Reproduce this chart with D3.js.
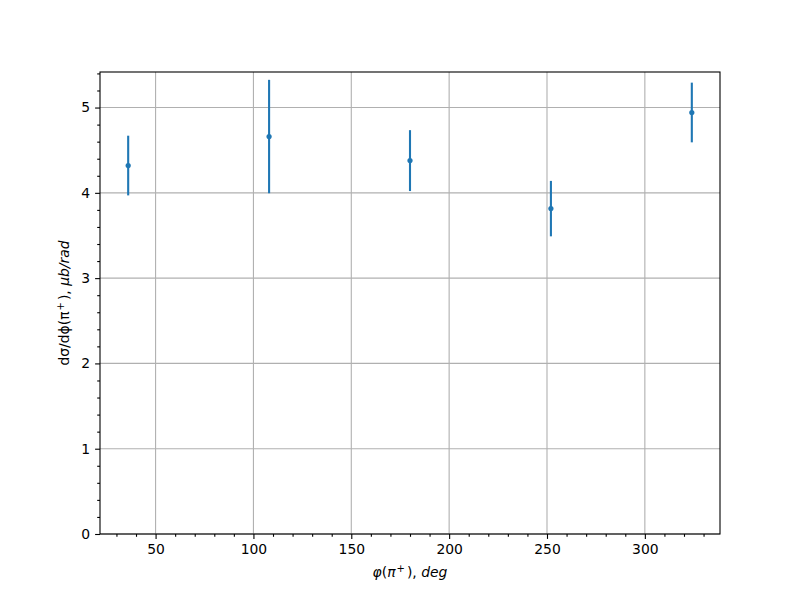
<!DOCTYPE html>
<html>
<head>
<meta charset="utf-8">
<script src="https://cdn.jsdelivr.net/npm/d3@7"></script>
<style>
body { margin: 0; background: #fff; }
svg { display: block; }
text { font-family: "DejaVu Sans", sans-serif; }
</style>
</head>
<body>
<svg id="chart" width="800" height="600"></svg>
<script>
// Data
const phiDeg = [36, 108, 180, 252, 324];
const dsigma = [4.32, 4.66, 4.378, 3.815, 4.942];
const dsigmaErr = [0.35, 0.665, 0.357, 0.325, 0.35];
const xTicks = [50, 100, 150, 200, 250, 300];
const yTicks = [0, 1, 2, 3, 4, 5];

(function () {
const W = 800, H = 600;
const mLeft = 100, mRight = 720, mTop = 72, mBottom = 534;
const color = "#1f77b4";

const svg = d3.select("#chart");
svg.append("rect").attr("width", W).attr("height", H).attr("fill", "#fff");

// domains like matplotlib autoscale (5% margins), y bottom fixed at 0
const xmin = d3.min(phiDeg), xmax = d3.max(phiDeg);
const xm = 0.05 * (xmax - xmin);
const x = d3.scaleLinear().domain([xmin - xm, xmax + xm]).range([mLeft, mRight]);
const lo = d3.min(dsigma.map((v, i) => v - dsigmaErr[i]));
const hi = d3.max(dsigma.map((v, i) => v + dsigmaErr[i]));
const y = d3.scaleLinear().domain([0, hi + 0.05 * (hi - lo)]).range([mBottom, mTop]);

// grid
const grid = svg.append("g");
xTicks.forEach(t => grid.append("line")
  .attr("x1", x(t)).attr("x2", x(t)).attr("y1", mTop).attr("y2", mBottom)
  .attr("stroke", "#b0b0b0").attr("stroke-width", 1.1));
yTicks.forEach(t => grid.append("line")
  .attr("x1", mLeft).attr("x2", mRight).attr("y1", y(t)).attr("y2", y(t))
  .attr("stroke", "#b0b0b0").attr("stroke-width", 1.1));

// axes via d3
const xMinor = d3.range(30, 340, 10).filter(v => v % 50 !== 0 && v >= x.domain()[0] && v <= x.domain()[1]);
const yMinor = d3.range(0, 5.5, 0.2).map(v => +v.toFixed(1)).filter(v => Math.abs(v - Math.round(v)) > 1e-6 && v <= y.domain()[1]);

svg.append("g").attr("transform", `translate(0,${mBottom})`)
  .call(d3.axisBottom(x).tickValues(xTicks).tickSize(4.9).tickPadding(4.9).tickFormat(d3.format("d")));
svg.append("g").attr("transform", `translate(0,${mBottom})`)
  .call(d3.axisBottom(x).tickValues(xMinor).tickSize(2.8).tickFormat(""));
svg.append("g").attr("transform", `translate(${mLeft},0)`)
  .call(d3.axisLeft(y).tickValues(yTicks).tickSize(4.9).tickPadding(4.9).tickFormat(d3.format("d")));
svg.append("g").attr("transform", `translate(${mLeft},0)`)
  .call(d3.axisLeft(y).tickValues(yMinor).tickSize(2.8).tickFormat(""));

svg.selectAll(".tick line").attr("stroke", "#000").attr("stroke-width", 1.1);
svg.selectAll(".domain").remove();
svg.selectAll(".tick text").attr("font-size", "13.9px").attr("fill", "#000")
  .attr("font-family", "DejaVu Sans");

// error bars and points
const pts = svg.append("g");
phiDeg.forEach((d, i) => {
  pts.append("line")
    .attr("x1", x(d)).attr("x2", x(d))
    .attr("y1", y(dsigma[i] - dsigmaErr[i])).attr("y2", y(dsigma[i] + dsigmaErr[i]))
    .attr("stroke", color).attr("stroke-width", 2.1);
  pts.append("circle").attr("cx", x(d)).attr("cy", y(dsigma[i])).attr("r", 2.6).attr("fill", color);
});

// frame
svg.append("rect").attr("x", mLeft).attr("y", mTop).attr("width", mRight - mLeft).attr("height", mBottom - mTop)
  .attr("fill", "none").attr("stroke", "#000").attr("stroke-width", 1.1);

// x label
const xl = svg.append("text").attr("x", (mLeft + mRight) / 2).attr("y", 577)
  .attr("text-anchor", "middle").attr("font-size", "13.9px").attr("fill", "#000");
xl.append("tspan").attr("font-style", "italic").text("φ");
xl.append("tspan").text("(");
xl.append("tspan").attr("font-style", "italic").text("π");
xl.append("tspan").attr("font-size", "10px").attr("dy", -5).attr("dx", 1).text("+");
xl.append("tspan").attr("dy", 5).attr("dx", 2).text("), ");
xl.append("tspan").attr("font-style", "italic").text("deg");

// y label
const yl = svg.append("text").attr("transform", `translate(69,${(mTop + mBottom) / 2}) rotate(-90)`)
  .attr("text-anchor", "middle").attr("font-size", "13.9px").attr("fill", "#000");
yl.append("tspan").text("dσ/dϕ(π");
yl.append("tspan").attr("font-size", "10px").attr("dy", -5).attr("dx", 1).text("+");
yl.append("tspan").attr("dy", 5).attr("dx", 2).text("), ");
yl.append("tspan").attr("font-style", "italic").text("μb/rad");
})();
</script>
</body>
</html>
